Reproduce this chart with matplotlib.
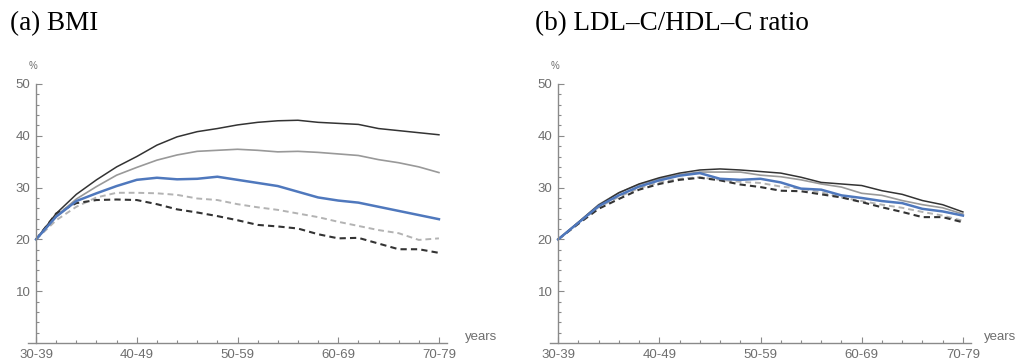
import numpy as np
import matplotlib
matplotlib.use('Agg')
import matplotlib.pyplot as plt

# ages (start of each 2-year step) and age-group labels
years = np.arange(30, 71, 2)
age_ticks = [30, 40, 50, 60, 70]
age_labels = ['30-39', '40-49', '50-59', '60-69', '70-79']

# (a) BMI
bmi_black = [20, 25.0, 28.7, 31.5, 34.0, 36.0, 38.2, 39.8, 40.8, 41.4, 42.1,
             42.6, 42.9, 43.0, 42.6, 42.4, 42.2, 41.4, 41.0, 40.6, 40.2]
bmi_gray = [20, 24.5, 27.8, 30.2, 32.4, 33.9, 35.3, 36.3, 37.0, 37.2, 37.4,
            37.2, 36.9, 37.0, 36.8, 36.5, 36.2, 35.4, 34.8, 34.0, 32.9]
bmi_blue = [20, 24.4, 27.4, 28.9, 30.3, 31.5, 31.9, 31.6, 31.7, 32.1, 31.5,
            30.9, 30.3, 29.2, 28.1, 27.5, 27.1, 26.3, 25.5, 24.7, 23.9]
bmi_gray_dash = [20, 23.7, 26.3, 28.1, 29.0, 29.0, 28.9, 28.6, 27.9, 27.6, 26.8,
                 26.2, 25.7, 25.0, 24.3, 23.4, 22.6, 21.8, 21.2, 19.9, 20.2]
bmi_black_dash = [20, 25.0, 27.0, 27.6, 27.7, 27.6, 26.8, 25.8, 25.2, 24.5, 23.7,
                  22.8, 22.5, 22.1, 21.0, 20.2, 20.3, 19.2, 18.1, 18.1, 17.4]

# (b) LDL-C/HDL-C ratio
ldl_black = [20, 23.3, 26.6, 29.0, 30.7, 31.9, 32.8, 33.4, 33.6, 33.4, 33.1,
             32.8, 32.0, 31.0, 30.7, 30.4, 29.4, 28.7, 27.5, 26.7, 25.3]
ldl_gray = [20, 23.3, 26.7, 29.0, 30.6, 31.7, 32.5, 33.0, 33.0, 33.0, 32.4,
            32.1, 31.5, 30.7, 30.1, 28.9, 28.5, 27.5, 26.7, 26.1, 24.9]
ldl_blue = [20, 23.2, 26.4, 28.5, 30.2, 31.4, 32.3, 32.8, 31.7, 31.5, 31.7,
            31.0, 29.8, 29.6, 28.5, 28.0, 27.4, 27.0, 25.9, 25.4, 24.6]
ldl_gray_dash = [20, 23.2, 26.2, 28.2, 29.9, 31.0, 31.7, 32.0, 31.5, 31.1, 30.9,
                 30.2, 29.8, 29.1, 28.1, 27.4, 26.7, 26.1, 25.3, 24.6, 23.6]
ldl_black_dash = [20, 23.0, 25.9, 27.8, 29.6, 30.7, 31.5, 31.9, 31.4, 30.6, 30.1,
                  29.4, 29.3, 28.7, 28.1, 27.2, 26.2, 25.3, 24.3, 24.3, 23.3]

axis_col = '#8a8a8a'
label_col = '#6e6e6e'
tick_font = 'Liberation Sans'

fig = plt.figure(figsize=(10.19, 3.64), dpi=100)


def draw_panel(ax, black, gray, blue, gray_dash, black_dash, years_x):
    ax.plot(years, gray_dash, color='#b3b3b3', lw=1.4, dashes=(3, 2))
    ax.plot(years, black_dash, color='#333333', lw=1.5, dashes=(3, 2))
    ax.plot(years, gray, color='#999999', lw=1.2)
    ax.plot(years, black, color='#333333', lw=1.1)
    ax.plot(years, blue, color='#4f78bd', lw=1.8)

    ax.set_xlim(29.2, 70.8)
    ax.set_ylim(0, 50)
    for s in ['top', 'right']:
        ax.spines[s].set_visible(False)
    ax.spines['left'].set_position(('data', 30))
    for s in ['left', 'bottom']:
        ax.spines[s].set_color(axis_col)
        ax.spines[s].set_linewidth(1.0)

    ax.set_xticks(age_ticks)
    ax.set_xticklabels(age_labels)
    ax.set_xticks(np.arange(32, 70, 2), minor=True)
    ax.set_yticks([10, 20, 30, 40, 50])
    ax.set_yticks(np.arange(2, 50, 2), minor=True)
    ax.tick_params(which='both', direction='in', color=axis_col, width=0.8)
    ax.tick_params(which='major', length=4, labelsize=9.5, labelcolor=label_col, pad=4)
    ax.tick_params(which='minor', length=2.3)
    for lab in ax.get_xticklabels() + ax.get_yticklabels():
        lab.set_fontfamily(tick_font)

    ax.text(29.7, 53.5, '%', ha='center', va='center', fontsize=7,
            color=label_col, family=tick_font, clip_on=False)
    ax.text(years_x, 1.2, 'years', ha='left', va='center', fontsize=9.5,
            color=label_col, family=tick_font, clip_on=False)


ax1 = fig.add_axes([28 / 1019, 21 / 364, 419 / 1019, 259 / 364])
draw_panel(ax1, bmi_black, bmi_gray, bmi_blue, bmi_gray_dash, bmi_black_dash, 72.6)

ax2 = fig.add_axes([550 / 1019, 21 / 364, 421 / 1019, 259 / 364])
draw_panel(ax2, ldl_black, ldl_gray, ldl_blue, ldl_gray_dash, ldl_black_dash, 72.1)

fig.text(10 / 1019, 1 - 24 / 364, '(a) BMI', family='Liberation Serif',
         fontsize=19.5, va='center', ha='left')
fig.text(535 / 1019, 1 - 24 / 364, '(b) LDL\u2013C/HDL\u2013C ratio',
         family='Liberation Serif', fontsize=19.5, va='center', ha='left')

fig.savefig('out.png', dpi=100)
